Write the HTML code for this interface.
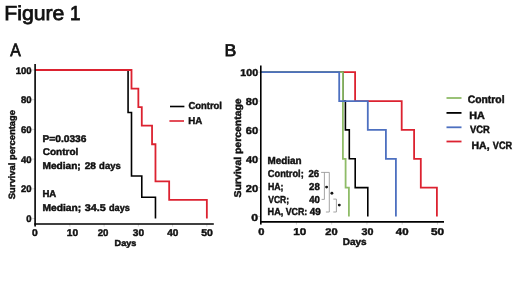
<!DOCTYPE html>
<html><head><meta charset="utf-8"><style>
html,body{margin:0;padding:0;background:#fff;}
svg{display:block;}
.t{filter:grayscale(1);}
text{font-family:"Liberation Sans",sans-serif;text-rendering:geometricPrecision;}
</style></head><body>
<svg width="520" height="292" viewBox="0 0 520 292">
<rect width="520" height="292" fill="#fff"/>
<line x1="32.20" y1="218.50" x2="35.10" y2="218.50" stroke="#c8c8c8" stroke-width="0.8"/>
<line x1="32.20" y1="188.80" x2="35.10" y2="188.80" stroke="#c8c8c8" stroke-width="0.8"/>
<line x1="32.20" y1="159.10" x2="35.10" y2="159.10" stroke="#c8c8c8" stroke-width="0.8"/>
<line x1="32.20" y1="129.40" x2="35.10" y2="129.40" stroke="#c8c8c8" stroke-width="0.8"/>
<line x1="32.20" y1="99.70" x2="35.10" y2="99.70" stroke="#c8c8c8" stroke-width="0.8"/>
<line x1="32.20" y1="70.00" x2="35.10" y2="70.00" stroke="#c8c8c8" stroke-width="0.8"/>
<line x1="35.60" y1="224.00" x2="35.60" y2="226.60" stroke="#c8c8c8" stroke-width="0.8"/>
<line x1="69.85" y1="224.00" x2="69.85" y2="226.60" stroke="#c8c8c8" stroke-width="0.8"/>
<line x1="104.10" y1="224.00" x2="104.10" y2="226.60" stroke="#c8c8c8" stroke-width="0.8"/>
<line x1="138.35" y1="224.00" x2="138.35" y2="226.60" stroke="#c8c8c8" stroke-width="0.8"/>
<line x1="172.60" y1="224.00" x2="172.60" y2="226.60" stroke="#c8c8c8" stroke-width="0.8"/>
<line x1="206.85" y1="224.00" x2="206.85" y2="226.60" stroke="#c8c8c8" stroke-width="0.8"/>
<path d="M35.10,70.00 L128.07,70.00 L128.07,112.43 L131.50,112.43 L131.50,176.07 L141.78,176.07 L141.78,197.29 L155.47,197.29 L155.47,218.50" fill="none" stroke="#000" stroke-width="1.6" stroke-linejoin="miter" stroke-linecap="butt"/>
<path d="M35.10,70.00 L131.50,70.00 L131.50,88.56 L138.35,88.56 L138.35,107.12 L141.78,107.12 L141.78,125.69 L152.05,125.69 L152.05,144.25 L155.47,144.25 L155.47,181.38 L169.17,181.38 L169.17,199.94 L206.85,199.94 L206.85,218.50" fill="none" stroke="#dc2230" stroke-width="1.8" stroke-linejoin="miter" stroke-linecap="butt"/>
<line x1="35.10" y1="64.00" x2="35.10" y2="226.60" stroke="#000" stroke-width="1.6"/>
<line x1="34.30" y1="224.00" x2="213.80" y2="224.00" stroke="#000" stroke-width="1.7"/>
<line x1="170.00" y1="106.50" x2="184.40" y2="106.50" stroke="#000" stroke-width="1.6"/>
<line x1="169.40" y1="121.00" x2="184.00" y2="121.00" stroke="#dc2230" stroke-width="1.6"/>
<line x1="258.00" y1="216.50" x2="260.80" y2="216.50" stroke="#c8c8c8" stroke-width="0.8"/>
<line x1="258.00" y1="187.64" x2="260.80" y2="187.64" stroke="#c8c8c8" stroke-width="0.8"/>
<line x1="258.00" y1="158.78" x2="260.80" y2="158.78" stroke="#c8c8c8" stroke-width="0.8"/>
<line x1="258.00" y1="129.92" x2="260.80" y2="129.92" stroke="#c8c8c8" stroke-width="0.8"/>
<line x1="258.00" y1="101.06" x2="260.80" y2="101.06" stroke="#c8c8c8" stroke-width="0.8"/>
<line x1="258.00" y1="72.20" x2="260.80" y2="72.20" stroke="#c8c8c8" stroke-width="0.8"/>
<line x1="261.20" y1="221.90" x2="261.20" y2="224.60" stroke="#c8c8c8" stroke-width="0.8"/>
<line x1="296.45" y1="221.90" x2="296.45" y2="224.60" stroke="#c8c8c8" stroke-width="0.8"/>
<line x1="331.70" y1="221.90" x2="331.70" y2="224.60" stroke="#c8c8c8" stroke-width="0.8"/>
<line x1="366.95" y1="221.90" x2="366.95" y2="224.60" stroke="#c8c8c8" stroke-width="0.8"/>
<line x1="402.20" y1="221.90" x2="402.20" y2="224.60" stroke="#c8c8c8" stroke-width="0.8"/>
<line x1="437.45" y1="221.90" x2="437.45" y2="224.60" stroke="#c8c8c8" stroke-width="0.8"/>
<path d="M260.80,72.20 L355.10,72.20 L355.10,101.06 L401.70,101.06 L401.70,129.92 L414.10,129.92 L414.10,158.78 L420.80,158.78 L420.80,187.64 L436.90,187.64 L436.90,216.50" fill="none" stroke="#dc2230" stroke-width="1.8" stroke-linejoin="miter" stroke-linecap="butt"/>
<path d="M260.80,72.20 L342.90,72.20 L342.90,101.06 L345.40,101.06 L345.40,129.92 L349.30,129.92 L349.30,158.78 L355.20,158.78 L355.20,187.64 L367.80,187.64 L367.80,216.50" fill="none" stroke="#000" stroke-width="1.6" stroke-linejoin="miter" stroke-linecap="butt"/>
<path d="M260.80,72.20 L342.90,72.20 L342.90,158.78 L345.60,158.78 L345.60,187.64 L348.90,187.64 L348.90,216.50" fill="none" stroke="#8fbc68" stroke-width="1.8" stroke-linejoin="miter" stroke-linecap="butt"/>
<path d="M260.80,72.20 L339.20,72.20 L339.20,101.06 L367.80,101.06 L367.80,129.92 L385.90,129.92 L385.90,158.78 L395.90,158.78 L395.90,216.50" fill="none" stroke="#4d70c0" stroke-width="1.8" stroke-linejoin="miter" stroke-linecap="butt"/>
<line x1="260.80" y1="65.50" x2="260.80" y2="224.60" stroke="#000" stroke-width="1.6"/>
<line x1="260.00" y1="221.90" x2="444.00" y2="221.90" stroke="#000" stroke-width="1.7"/>
<line x1="446.50" y1="98.00" x2="461.50" y2="98.00" stroke="#8fbc68" stroke-width="1.8"/>
<line x1="446.50" y1="112.90" x2="461.50" y2="112.90" stroke="#000" stroke-width="1.8"/>
<line x1="446.50" y1="127.30" x2="461.50" y2="127.30" stroke="#4d70c0" stroke-width="1.8"/>
<line x1="446.50" y1="141.50" x2="461.50" y2="141.50" stroke="#dc2230" stroke-width="1.8"/>
<line x1="321.10" y1="172.40" x2="329.30" y2="172.40" stroke="#9a9a9a" stroke-width="0.9"/>
<line x1="324.40" y1="172.40" x2="324.40" y2="199.40" stroke="#9a9a9a" stroke-width="0.9"/>
<line x1="321.60" y1="199.40" x2="324.40" y2="199.40" stroke="#9a9a9a" stroke-width="0.9"/>
<line x1="329.30" y1="172.40" x2="329.30" y2="212.00" stroke="#9a9a9a" stroke-width="0.9"/>
<line x1="325.90" y1="212.00" x2="329.30" y2="212.00" stroke="#9a9a9a" stroke-width="0.9"/>
<line x1="333.30" y1="199.10" x2="336.40" y2="199.10" stroke="#9a9a9a" stroke-width="0.9"/>
<line x1="336.40" y1="199.10" x2="336.40" y2="212.00" stroke="#9a9a9a" stroke-width="0.9"/>
<line x1="333.30" y1="212.00" x2="336.40" y2="212.00" stroke="#9a9a9a" stroke-width="0.9"/>
<circle cx="326.6" cy="187.1" r="1.45" fill="#151515"/>
<circle cx="331.9" cy="193.3" r="1.45" fill="#151515"/>
<circle cx="339.3" cy="205.1" r="1.45" fill="#151515"/>
<g class="t">
<text x="4.20" y="19.70" font-size="20.29" font-weight="normal" textLength="60.25" lengthAdjust="spacingAndGlyphs" fill="#111" stroke="#111" stroke-width="0.75">Figure</text>
<text x="69.99" y="19.70" font-size="20.29" font-weight="normal" textLength="10.48" lengthAdjust="spacingAndGlyphs" fill="#111" stroke="#111" stroke-width="0.75">1</text>
<text x="10.30" y="55.80" font-size="17.97" font-weight="normal" textLength="10.53" lengthAdjust="spacingAndGlyphs" fill="#111" stroke="#111" stroke-width="0.75">A</text>
<text x="224.48" y="55.80" font-size="16.81" font-weight="normal" textLength="11.84" lengthAdjust="spacingAndGlyphs" fill="#111" stroke="#111" stroke-width="0.75">B</text>
<text x="15.66" y="73.65" font-size="9.57" font-weight="bold" textLength="15.96" lengthAdjust="spacingAndGlyphs" fill="#111" stroke="#111" stroke-width="0.45">100</text>
<text x="20.97" y="103.35" font-size="9.57" font-weight="bold" textLength="10.64" lengthAdjust="spacingAndGlyphs" fill="#111" stroke="#111" stroke-width="0.45">80</text>
<text x="20.97" y="133.05" font-size="9.57" font-weight="bold" textLength="10.64" lengthAdjust="spacingAndGlyphs" fill="#111" stroke="#111" stroke-width="0.45">60</text>
<text x="20.97" y="162.75" font-size="9.57" font-weight="bold" textLength="10.64" lengthAdjust="spacingAndGlyphs" fill="#111" stroke="#111" stroke-width="0.45">40</text>
<text x="20.97" y="192.45" font-size="9.57" font-weight="bold" textLength="10.64" lengthAdjust="spacingAndGlyphs" fill="#111" stroke="#111" stroke-width="0.45">20</text>
<text x="26.27" y="222.15" font-size="9.57" font-weight="bold" textLength="5.32" lengthAdjust="spacingAndGlyphs" fill="#111" stroke="#111" stroke-width="0.45">0</text>
<text x="31.99" y="236.00" font-size="9.78" font-weight="bold" textLength="5.74" lengthAdjust="spacingAndGlyphs" fill="#111" stroke="#111" stroke-width="0.45">0</text>
<text x="66.89" y="236.00" font-size="9.78" font-weight="bold" textLength="11.34" lengthAdjust="spacingAndGlyphs" fill="#111" stroke="#111" stroke-width="0.45">10</text>
<text x="97.66" y="236.00" font-size="9.78" font-weight="bold" textLength="10.75" lengthAdjust="spacingAndGlyphs" fill="#111" stroke="#111" stroke-width="0.45">20</text>
<text x="132.75" y="236.00" font-size="9.78" font-weight="bold" textLength="11.28" lengthAdjust="spacingAndGlyphs" fill="#111" stroke="#111" stroke-width="0.45">30</text>
<text x="167.25" y="236.00" font-size="9.78" font-weight="bold" textLength="11.18" lengthAdjust="spacingAndGlyphs" fill="#111" stroke="#111" stroke-width="0.45">40</text>
<text x="201.29" y="236.00" font-size="9.78" font-weight="bold" textLength="11.66" lengthAdjust="spacingAndGlyphs" fill="#111" stroke="#111" stroke-width="0.45">50</text>
<text x="114.61" y="246.00" font-size="8.70" font-weight="bold" textLength="21.76" lengthAdjust="spacingAndGlyphs" fill="#111" stroke="#111" stroke-width="0.45">Days</text>
<text x="0" y="0" transform="translate(15.40,199.28) rotate(-90)" font-size="9.13" font-weight="bold" textLength="89.31" lengthAdjust="spacingAndGlyphs" fill="#111" stroke="#111" stroke-width="0.45">Survival percentage</text>
<text x="188.42" y="108.90" font-size="10.00" font-weight="bold" textLength="33.54" lengthAdjust="spacingAndGlyphs" fill="#111" stroke="#111" stroke-width="0.45">Control</text>
<text x="188.17" y="123.60" font-size="9.86" font-weight="bold" textLength="14.02" lengthAdjust="spacingAndGlyphs" fill="#111" stroke="#111" stroke-width="0.45">HA</text>
<text x="42.44" y="141.60" font-size="9.71" font-weight="bold" textLength="44.02" lengthAdjust="spacingAndGlyphs" fill="#111" stroke="#111" stroke-width="0.45">P=0.0336</text>
<text x="42.70" y="155.30" font-size="9.71" font-weight="bold" textLength="35.60" lengthAdjust="spacingAndGlyphs" fill="#111" stroke="#111" stroke-width="0.45">Control</text>
<text x="42.44" y="169.00" font-size="9.71" font-weight="bold" textLength="38.30" lengthAdjust="spacingAndGlyphs" fill="#111" stroke="#111" stroke-width="0.45">Median;</text>
<text x="84.74" y="169.00" font-size="9.71" font-weight="bold" textLength="11.28" lengthAdjust="spacingAndGlyphs" fill="#111" stroke="#111" stroke-width="0.45">28</text>
<text x="99.12" y="169.00" font-size="9.71" font-weight="bold" textLength="21.65" lengthAdjust="spacingAndGlyphs" fill="#111" stroke="#111" stroke-width="0.45">days</text>
<text x="42.48" y="197.00" font-size="9.71" font-weight="bold" textLength="13.80" lengthAdjust="spacingAndGlyphs" fill="#111" stroke="#111" stroke-width="0.45">HA</text>
<text x="42.43" y="210.60" font-size="9.71" font-weight="bold" textLength="38.72" lengthAdjust="spacingAndGlyphs" fill="#111" stroke="#111" stroke-width="0.45">Median;</text>
<text x="84.83" y="210.60" font-size="9.71" font-weight="bold" textLength="21.06" lengthAdjust="spacingAndGlyphs" fill="#111" stroke="#111" stroke-width="0.45">34.5</text>
<text x="109.03" y="210.60" font-size="9.71" font-weight="bold" textLength="20.83" lengthAdjust="spacingAndGlyphs" fill="#111" stroke="#111" stroke-width="0.45">days</text>
<text x="240.36" y="76.20" font-size="10.00" font-weight="bold" textLength="17.70" lengthAdjust="spacingAndGlyphs" fill="#111" stroke="#111" stroke-width="0.45">100</text>
<text x="245.77" y="105.06" font-size="10.00" font-weight="bold" textLength="12.30" lengthAdjust="spacingAndGlyphs" fill="#111" stroke="#111" stroke-width="0.45">80</text>
<text x="245.71" y="133.92" font-size="10.00" font-weight="bold" textLength="12.36" lengthAdjust="spacingAndGlyphs" fill="#111" stroke="#111" stroke-width="0.45">60</text>
<text x="245.94" y="162.78" font-size="10.00" font-weight="bold" textLength="12.13" lengthAdjust="spacingAndGlyphs" fill="#111" stroke="#111" stroke-width="0.45">40</text>
<text x="245.71" y="191.64" font-size="10.00" font-weight="bold" textLength="12.36" lengthAdjust="spacingAndGlyphs" fill="#111" stroke="#111" stroke-width="0.45">20</text>
<text x="251.31" y="220.50" font-size="10.00" font-weight="bold" textLength="6.79" lengthAdjust="spacingAndGlyphs" fill="#111" stroke="#111" stroke-width="0.45">0</text>
<text x="258.15" y="235.10" font-size="9.86" font-weight="bold" textLength="6.21" lengthAdjust="spacingAndGlyphs" fill="#111" stroke="#111" stroke-width="0.45">0</text>
<text x="293.30" y="235.10" font-size="9.86" font-weight="bold" textLength="13.00" lengthAdjust="spacingAndGlyphs" fill="#111" stroke="#111" stroke-width="0.45">10</text>
<text x="325.21" y="235.10" font-size="9.86" font-weight="bold" textLength="12.36" lengthAdjust="spacingAndGlyphs" fill="#111" stroke="#111" stroke-width="0.45">20</text>
<text x="361.53" y="235.10" font-size="9.86" font-weight="bold" textLength="11.92" lengthAdjust="spacingAndGlyphs" fill="#111" stroke="#111" stroke-width="0.45">30</text>
<text x="395.83" y="235.10" font-size="9.86" font-weight="bold" textLength="12.76" lengthAdjust="spacingAndGlyphs" fill="#111" stroke="#111" stroke-width="0.45">40</text>
<text x="430.95" y="235.10" font-size="9.86" font-weight="bold" textLength="13.16" lengthAdjust="spacingAndGlyphs" fill="#111" stroke="#111" stroke-width="0.45">50</text>
<text x="342.65" y="245.30" font-size="9.71" font-weight="bold" textLength="23.96" lengthAdjust="spacingAndGlyphs" fill="#111" stroke="#111" stroke-width="0.45">Days</text>
<text x="0" y="0" transform="translate(241.40,197.51) rotate(-90)" font-size="9.86" font-weight="bold" textLength="99.17" lengthAdjust="spacingAndGlyphs" fill="#111" stroke="#111" stroke-width="0.45">Survival percentage</text>
<text x="467.69" y="102.80" font-size="10.72" font-weight="bold" textLength="36.84" lengthAdjust="spacingAndGlyphs" fill="#111" stroke="#111" stroke-width="0.45">Control</text>
<text x="469.30" y="118.80" font-size="10.72" font-weight="bold" textLength="15.62" lengthAdjust="spacingAndGlyphs" fill="#111" stroke="#111" stroke-width="0.45">HA</text>
<text x="469.95" y="133.20" font-size="10.72" font-weight="bold" textLength="19.75" lengthAdjust="spacingAndGlyphs" fill="#111" stroke="#111" stroke-width="0.45">VCR</text>
<text x="471.52" y="148.80" font-size="10.72" font-weight="bold" textLength="18.09" lengthAdjust="spacingAndGlyphs" fill="#111" stroke="#111" stroke-width="0.45">HA,</text>
<text x="492.85" y="148.80" font-size="10.72" font-weight="bold" textLength="19.24" lengthAdjust="spacingAndGlyphs" fill="#111" stroke="#111" stroke-width="0.45">VCR</text>
<text x="267.46" y="163.90" font-size="10.14" font-weight="bold" textLength="34.14" lengthAdjust="spacingAndGlyphs" fill="#111" stroke="#111" stroke-width="0.45">Median</text>
<text x="267.83" y="176.90" font-size="10.14" font-weight="bold" textLength="35.93" lengthAdjust="spacingAndGlyphs" fill="#111" stroke="#111" stroke-width="0.45">Control;</text>
<text x="308.46" y="176.90" font-size="10.14" font-weight="bold" textLength="10.70" lengthAdjust="spacingAndGlyphs" fill="#111" stroke="#111" stroke-width="0.45">26</text>
<text x="267.93" y="190.20" font-size="10.14" font-weight="bold" textLength="15.58" lengthAdjust="spacingAndGlyphs" fill="#111" stroke="#111" stroke-width="0.45">HA;</text>
<text x="309.06" y="190.20" font-size="10.14" font-weight="bold" textLength="10.75" lengthAdjust="spacingAndGlyphs" fill="#111" stroke="#111" stroke-width="0.45">28</text>
<text x="268.26" y="203.10" font-size="10.14" font-weight="bold" textLength="20.74" lengthAdjust="spacingAndGlyphs" fill="#111" stroke="#111" stroke-width="0.45">VCR;</text>
<text x="309.26" y="203.10" font-size="10.14" font-weight="bold" textLength="10.65" lengthAdjust="spacingAndGlyphs" fill="#111" stroke="#111" stroke-width="0.45">40</text>
<text x="267.61" y="215.20" font-size="10.14" font-weight="bold" textLength="15.71" lengthAdjust="spacingAndGlyphs" fill="#111" stroke="#111" stroke-width="0.45">HA,</text>
<text x="285.66" y="215.20" font-size="10.14" font-weight="bold" textLength="21.62" lengthAdjust="spacingAndGlyphs" fill="#111" stroke="#111" stroke-width="0.45">VCR:</text>
<text x="309.65" y="215.20" font-size="10.14" font-weight="bold" textLength="11.02" lengthAdjust="spacingAndGlyphs" fill="#111" stroke="#111" stroke-width="0.45">49</text>
</g></svg>
</body></html>
